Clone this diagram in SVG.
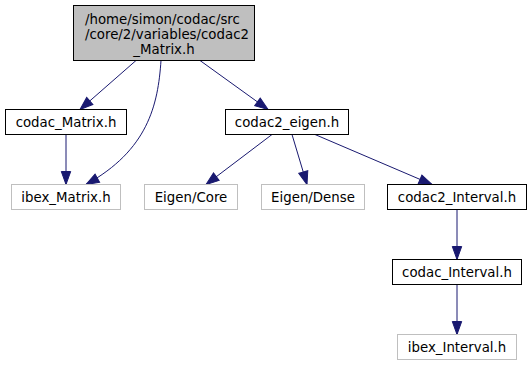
<svg xmlns="http://www.w3.org/2000/svg" width="531" height="365" viewBox="0 0 531 365">
<defs>
<style>
text{font-family:"DejaVu Sans","Liberation Sans",sans-serif;font-size:13.33px;fill:#000}
.c{text-anchor:middle}
.n{fill:#fff;stroke:#000;stroke-width:1}
.m{fill:#fff;stroke:#bfbfbf;stroke-width:1}
.r{fill:#bfbfbf;stroke:#000;stroke-width:1}
.e{fill:none;stroke:#191970;stroke-width:1;marker-end:url(#ah)}
</style>
<marker id="ah" markerUnits="userSpaceOnUse" markerWidth="16" markerHeight="12" viewBox="-1 -6 16 12" refX="13" refY="0" orient="auto">
<path d="M0,-4.7 L13,0 L0,4.7 Z" fill="#191970" stroke="#191970" stroke-width="1"/>
</marker>
</defs>
<rect width="531" height="365" fill="#fff"/>
<g id="edges">
<path class="e" d="M136,60.5 L80,109.5"/>
<path class="e" d="M161,60.5 C158,105 148,150 86,184.5"/>
<path class="e" d="M200,60.5 L268,109.5"/>
<path class="e" d="M66,134.5 L66,184.5"/>
<path class="e" d="M272,134.5 L206,184.5"/>
<path class="e" d="M292,134.5 L307,184.5"/>
<path class="e" d="M315,134.5 L432,184.5"/>
<path class="e" d="M457,209.5 L457,259.5"/>
<path class="e" d="M457,284.5 L457,334.5"/>
</g>
<g id="node1">
<rect class="r" x="73.5" y="5.5" width="181" height="55"/>
<text x="85" y="24">/home/simon/codac/src</text>
<text x="85" y="39">/core/2/variables/codac2</text>
<text class="c" x="164" y="54">_Matrix.h</text>
</g>
<g id="node2">
<rect class="n" x="5.5" y="109.5" width="121" height="25"/>
<text class="c" x="66" y="126.5">codac_Matrix.h</text>
</g>
<g id="node3">
<rect class="m" x="11.5" y="184.5" width="109" height="25"/>
<text class="c" x="66" y="201.5">ibex_Matrix.h</text>
</g>
<g id="node4">
<rect class="n" x="225.5" y="109.5" width="123" height="25"/>
<text class="c" x="287" y="126.5">codac2_eigen.h</text>
</g>
<g id="node5">
<rect class="m" x="144.5" y="184.5" width="93" height="25"/>
<text class="c" x="191" y="201.5">Eigen/Core</text>
</g>
<g id="node6">
<rect class="m" x="261.5" y="184.5" width="103" height="25"/>
<text class="c" x="313" y="201.5">Eigen/Dense</text>
</g>
<g id="node7">
<rect class="n" x="387.5" y="184.5" width="139" height="25"/>
<text class="c" x="457" y="201.5">codac2_Interval.h</text>
</g>
<g id="node8">
<rect class="n" x="392.5" y="259.5" width="129" height="25"/>
<text class="c" x="457" y="276.5">codac_Interval.h</text>
</g>
<g id="node9">
<rect class="m" x="397.5" y="334.5" width="119" height="25"/>
<text class="c" x="457" y="351.5">ibex_Interval.h</text>
</g>
</svg>
